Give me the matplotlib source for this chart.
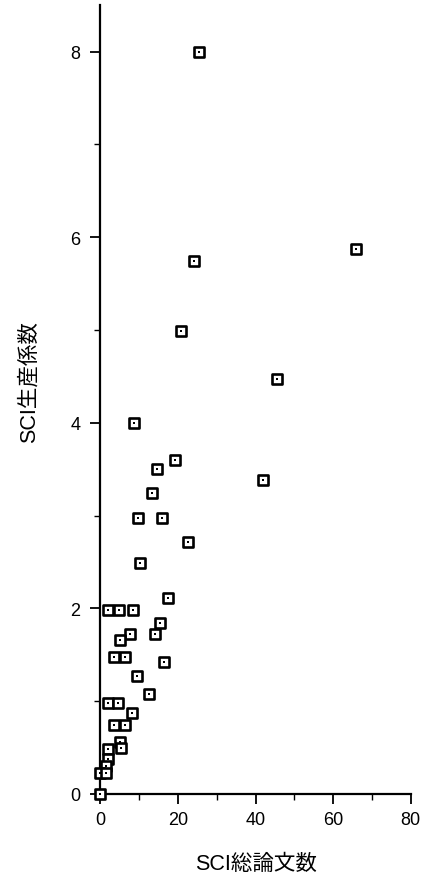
import matplotlib
matplotlib.use("Agg")
import matplotlib.pyplot as plt
from matplotlib.ticker import MultipleLocator

# Data
sci_papers = [25.4, 66.0, 24.0, 20.9, 45.6, 8.6, 19.1, 14.6, 13.3, 9.6, 15.8, 42.0,
              22.5, 10.3, 17.5, 1.9, 4.8, 8.3, 15.4, 14.1, 7.7, 5.1, 3.4, 6.2, 16.3,
              9.4, 12.6, 1.9, 4.6, 8.1, 3.4, 6.4, 5.1, 5.3, 1.9, 1.9, 1.4, 0.0, 1.4, 0.0]
sci_coef = [8.0, 5.87, 5.74, 4.99, 4.47, 4.0, 3.6, 3.5, 3.24, 2.97, 2.97, 3.38,
            2.71, 2.49, 2.11, 1.98, 1.98, 1.98, 1.84, 1.72, 1.72, 1.66, 1.48, 1.48, 1.42,
            1.27, 1.08, 0.98, 0.98, 0.87, 0.74, 0.74, 0.56, 0.50, 0.48, 0.38, 0.30, 0.23, 0.23, 0.0]
x_ticks = [0, 20, 40, 60, 80]
y_ticks = [0, 2, 4, 6, 8]
x_label = "SCI総論文数"
y_label = "SCI生産係数"

fam = ["Liberation Sans", "Noto Sans CJK JP", "DejaVu Sans"]
plt.rcParams["font.family"] = fam

fig = plt.figure(figsize=(4.33, 8.79), dpi=100)
ax = fig.add_axes([0.2321, 0.0956, 0.716, 0.8974])

ax.scatter(sci_papers, sci_coef, marker="s", s=50, facecolor="white",
           edgecolor="black", linewidths=1.9, clip_on=False, zorder=3)
ax.scatter(sci_papers, sci_coef, marker="s", s=4, color="black",
           linewidths=0, clip_on=False, zorder=4)

ax.set_xlim(0, 80)
ax.set_ylim(0, 8.5)
ax.set_xticks(x_ticks)
ax.set_yticks(y_ticks)
ax.xaxis.set_minor_locator(MultipleLocator(10))
ax.yaxis.set_minor_locator(MultipleLocator(1))

for s in ["top", "right"]:
    ax.spines[s].set_visible(False)
for s in ["left", "bottom"]:
    ax.spines[s].set_linewidth(1.6)
    ax.spines[s].set_color("black")

ax.tick_params(axis="both", which="major", direction="out", length=7.5, width=1.3,
               labelsize=13, colors="black")
ax.tick_params(axis="both", which="minor", direction="out", length=4.5, width=1.0)
ax.tick_params(axis="y", which="major", pad=7)
ax.tick_params(axis="x", which="major", pad=5)

ax.set_xlabel(x_label, fontsize=15.5, family=fam)
ax.set_ylabel(y_label, fontsize=15.5, family=fam)
ax.xaxis.set_label_coords(0.5, -0.075)
ax.yaxis.set_label_coords(-0.197, 0.524)

fig.savefig("out.png", dpi=100)
